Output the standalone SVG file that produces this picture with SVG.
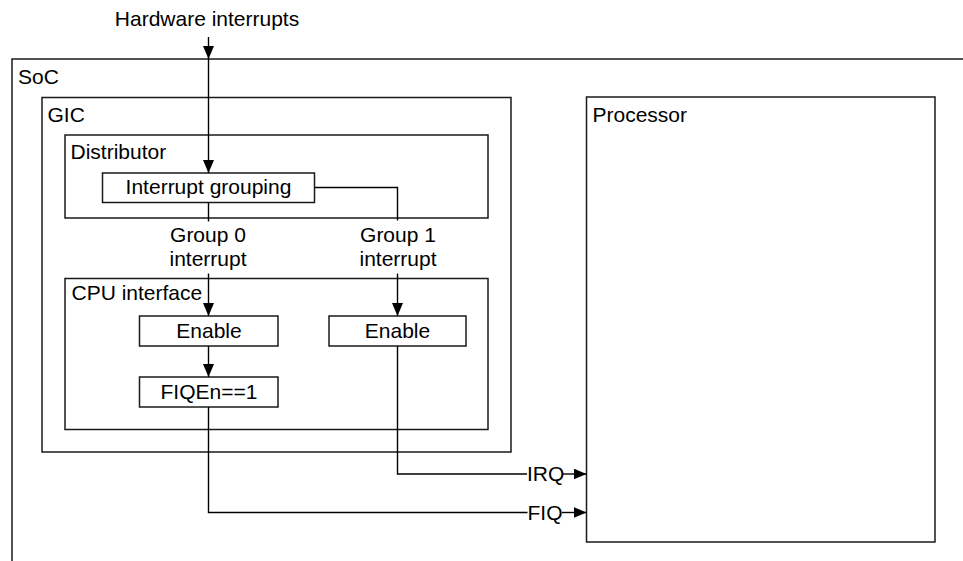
<svg xmlns="http://www.w3.org/2000/svg" width="963" height="561" viewBox="0 0 963 561">
  <defs>
    <marker id="arr" markerUnits="userSpaceOnUse" markerWidth="13" markerHeight="11" refX="13" refY="5.5" orient="auto">
      <path d="M0,0 L13,5.5 L0,11 z" fill="#000"/>
    </marker>
    <style>
      .box { fill: none; stroke: #1a1a1a; stroke-width: 1.5; }
      .wbox { fill: #fff; stroke: #1a1a1a; stroke-width: 1.5; }
      .ln { fill: none; stroke: #000; stroke-width: 1.4; }
      .arr { marker-end: url(#arr); }
      text { font-family: "Liberation Sans", Arial, sans-serif; font-size: 21px; fill: #000; }
      .c { text-anchor: middle; }
    </style>
  </defs>
  <rect width="963" height="561" fill="#fff"/>

  <g id="soc">
    <rect class="box" x="12" y="59" width="960" height="520"/>
    <text x="18" y="84">SoC</text>
  </g>
  <g id="gic">
    <rect class="box" x="42" y="97.5" width="469" height="354.5"/>
    <text x="47.5" y="122">GIC</text>
  </g>
  <g id="distributor">
    <rect class="box" x="65" y="135" width="423" height="83"/>
    <text x="70.5" y="159">Distributor</text>
  </g>
  <g id="cpu-interface">
    <rect class="box" x="65" y="278.5" width="423" height="151"/>
    <text x="71.5" y="300">CPU interface</text>
  </g>
  <g id="interrupt-grouping">
    <rect class="wbox" x="102.5" y="173" width="212" height="29.5"/>
    <text class="c" x="208.5" y="194">Interrupt grouping</text>
  </g>
  <g id="enable0">
    <rect class="wbox" x="139.5" y="316" width="138.5" height="30"/>
    <text class="c" x="209" y="338">Enable</text>
  </g>
  <g id="enable1">
    <rect class="wbox" x="329" y="316" width="137" height="30"/>
    <text class="c" x="397.5" y="338">Enable</text>
  </g>
  <g id="fiqen">
    <rect class="wbox" x="139.5" y="377" width="138.5" height="30"/>
    <text class="c" x="209" y="398.5">FIQEn==1</text>
  </g>
  <g id="processor">
    <rect class="wbox" x="586.5" y="97" width="348.5" height="445"/>
    <text x="592.5" y="121.5">Processor</text>
  </g>

  <g id="connectors">
    <text class="c" x="207" y="26">Hardware interrupts</text>
    <path class="ln arr" d="M208.5,37 V59"/>
    <path class="ln arr" d="M208.5,59 V173"/>
    <path class="ln" d="M208.5,202.5 V221.5"/>
    <path class="ln" d="M314.5,187.5 H397.5 V220.5"/>
    <text class="c" x="208" y="242">Group 0</text>
    <text class="c" x="208" y="266">interrupt</text>
    <text class="c" x="398" y="242">Group 1</text>
    <text class="c" x="398" y="266">interrupt</text>
    <path class="ln arr" d="M208.5,273.5 V316"/>
    <path class="ln arr" d="M397.5,273.5 V316"/>
    <path class="ln arr" d="M208.5,346 V377"/>
    <path class="ln" d="M397.5,346 V474 H527"/>
    <text x="527" y="481">IRQ</text>
    <path class="ln arr" d="M563,474 H586.5"/>
    <path class="ln" d="M208.5,407 V512.5 H527.5"/>
    <text x="527.5" y="519.5">FIQ</text>
    <path class="ln arr" d="M562,512.5 H586.5"/>
  </g>
</svg>
